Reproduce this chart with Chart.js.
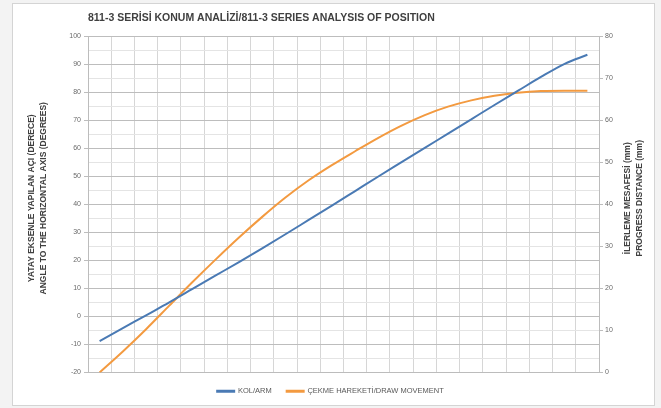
<!DOCTYPE html>
<html>
<head>
<meta charset="utf-8">
<title>811-3 Series Analysis of Position</title>
<script src="https://cdn.jsdelivr.net/npm/chart.js@4/dist/chart.umd.min.js"></script>
<style>
    html, body { margin: 0; padding: 0; background: #f3f3f3; }
    #frame {
        position: absolute; left: 12px; top: 3px; width: 641px; height: 401px;
        background: #fff; border: 1px solid #d4d4d4;
    }
    #chart { position: absolute; left: 0; top: 0; }
</style>
</head>
<body>
<div id="frame"></div>
<canvas id="chart" width="661" height="408"></canvas>
<script>
// ===== DATA =====
const positions = ["1", "2", "3", "4", "5", "6", "7", "8", "9", "10", "11",
                   "12", "13", "14", "15", "16", "17", "18", "19", "20", "21", "22"];

// angle to the horizontal axis, degrees (left axis)
const armAngle = [-8.8, -4.2, 0.4, 5.0, 9.8, 14.6, 19.4, 24.3, 29.3, 34.4, 39.5,
                  44.7, 49.9, 55.0, 60.1, 65.2, 70.3, 75.4, 80.4, 85.4, 90.0, 93.3];

// progress distance, mm (right axis)
const drawMovement = [0, 5.0, 10.3, 15.9, 21.5, 26.9, 32.1, 37.0, 41.6, 45.7, 49.3,
                      52.6, 55.8, 58.7, 61.2, 63.2, 64.7, 65.8, 66.5, 66.9, 67.0, 67.0];

const seriesNames = ["KOL/ARM", "ÇEKME HAREKETİ/DRAW MOVEMENT"];
const chartTitle = "811-3 SERİSİ KONUM ANALİZİ/811-3 SERIES ANALYSIS OF POSITION";
const leftAxisTitle = ["YATAY EKSENLE YAPILAN AÇI (DERECE)", "ANGLE TO THE HORIZONTAL AXIS (DEGREES)"];
const rightAxisTitle = ["İLERLEME MESAFESİ (mm)", "PROGRESS DISTANCE (mm)"];

// ===== TITLES (drawn on the canvas, rotated like the original) =====
const titlesPlugin = {
    id: "titles",
    afterDraw(chart) {
        const ctx = chart.ctx;
        const area = chart.chartArea;
        const midY = (area.top + area.bottom) / 2 - 6;
        ctx.save();
        ctx.fillStyle = "#404040";
        ctx.textBaseline = "middle";

        ctx.font = "bold 10.5px 'Liberation Sans', Arial, sans-serif";
        ctx.textAlign = "left";
        ctx.fillText(chartTitle, area.left, 18);

        ctx.font = "bold 8.5px 'Liberation Sans', Arial, sans-serif";
        ctx.textAlign = "center";
        [[leftAxisTitle, 32], [rightAxisTitle, 628]].forEach(([lines, x]) => {
            lines.forEach((line, i) => {
                ctx.save();
                ctx.translate(x + i * 12, midY);
                ctx.rotate(-Math.PI / 2);
                ctx.fillText(line, 0, 0);
                ctx.restore();
            });
        });
        ctx.restore();
    }
};

const tickFont = { size: 7, family: "'Liberation Sans', Arial, sans-serif" };

new Chart(document.getElementById("chart"), {
    type: "line",
    data: {
        labels: positions,
        datasets: [{
            label: seriesNames[0],
            data: armAngle,
            yAxisID: "yAngle",
            borderColor: "#4a7ab4",
            backgroundColor: "#4a7ab4",
            borderWidth: 2,
            pointRadius: 0,
            cubicInterpolationMode: "monotone",
        }, {
            label: seriesNames[1],
            data: drawMovement,
            yAxisID: "yDistance",
            borderColor: "#f39a40",
            backgroundColor: "#f39a40",
            borderWidth: 2,
            pointRadius: 0,
            cubicInterpolationMode: "monotone",
        }],
    },
    options: {
        responsive: false,
        animation: false,
        layout: { padding: { top: 36, bottom: 3, left: 0, right: 0 } },
        plugins: {
            title: { display: false },
            tooltip: { enabled: false },
            legend: {
                position: "bottom",
                labels: {
                    boxWidth: 17,
                    boxHeight: 1,
                    padding: 15,
                    color: "#595959",
                    font: { size: 7.5, family: "'Liberation Sans', Arial, sans-serif" },
                },
            },
        },
        scales: {
            x: {
                offset: true,
                ticks: { display: false },
                grid: { offset: true, color: "#d6d6d6", drawTicks: false },
                border: { color: "#bcbcbc" },
                afterFit(scale) { scale.height = 0; },
            },
            yAngle: {
                position: "left",
                min: -20,
                max: 100,
                ticks: {
                    stepSize: 5,
                    padding: 3,
                    color: "#6a6a6a",
                    font: tickFont,
                    callback: v => (v % 10 === 0 ? v : ""),
                },
                grid: {
                    color: c => (c.tick && c.tick.value % 10 === 0 ? "#bdbdbd" : "#e4e4e4"),
                    tickColor: c => (c.tick && c.tick.value % 10 === 0 ? "#bdbdbd" : "rgba(0,0,0,0)"),
                    tickLength: 4,
                },
                border: { color: "#bcbcbc" },
                afterFit(scale) { scale.width = 88; },
            },
            yDistance: {
                position: "right",
                min: 0,
                max: 80,
                ticks: { stepSize: 10, padding: 2, color: "#6a6a6a", font: tickFont },
                grid: { drawOnChartArea: false, color: "#bdbdbd", tickLength: 4 },
                border: { color: "#bcbcbc" },
                afterFit(scale) { scale.width = 62; },
            },
        },
    },
    plugins: [titlesPlugin],
});
</script>
</body>
</html>
